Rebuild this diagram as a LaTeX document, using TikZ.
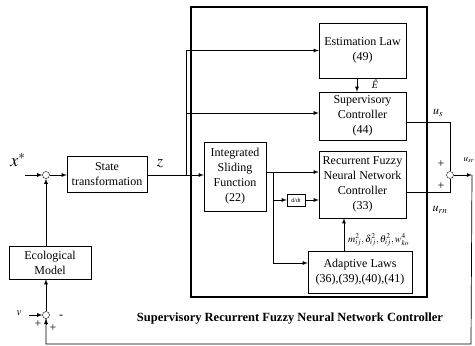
\documentclass[tikz,border=0pt]{standalone}
\usepackage{mathptmx}
\usepackage{fontspec}
\setmainfont{Liberation Serif}
\begin{document}
\begin{tikzpicture}[>=latex,x=1pt,y=-1pt,
  block/.style={draw,thin,align=center,inner sep=1pt,font=\fontsize{12}{15}\selectfont},
  sum/.style={draw,circle,thin,minimum size=7pt,inner sep=0pt},
  sig/.style={thick},
  wire/.style={line width=0.7pt},
  sign/.style={font=\fontsize{12}{12}\selectfont,inner sep=0pt}]
  \useasboundingbox (0,0) rectangle (475,346);

  % Controller frame
  \draw[line width=1.6pt] (191,7) rectangle (427,297);
  \node[font=\bfseries\fontsize{12.5}{14}\selectfont] (title) at (290,319)
    {Supervisory Recurrent Fuzzy Neural Network Controller};

  % Blocks
  \node[block,minimum width=87pt,minimum height=55pt] (est) at (362.5,50.5)
    {Estimation Law\\(49)};
  \node[block,minimum width=87pt,minimum height=48pt] (sup) at (362.5,116)
    {Supervisory\\Controller\\(44)};
  \node[block,minimum width=87pt,minimum height=67pt] (rfnn) at (362.5,184.5)
    {Recurrent Fuzzy\\Neural Network\\Controller\\(33)};
  \node[block,minimum width=62pt,minimum height=69pt] (isf) at (235,176.5)
    {Integrated\\Sliding\\Function\\(22)};
  \node[block,minimum width=18pt,minimum height=12pt,font=\fontsize{6}{6}\selectfont] (ddt) at (296,200)
    {d/dt};
  \node[block,minimum width=104pt,minimum height=42pt] (adapt) at (360,272)
    {Adaptive Laws\\(36),(39),(40),(41)};
  \node[block,minimum width=80pt,minimum height=36pt] (state) at (107,174)
    {State\\transformation};
  \node[block,minimum width=82pt,minimum height=33pt] (eco) at (50,262.5)
    {Ecological\\Model};

  % Summing junctions
  \node[sum] (sum1) at (46,175) {};
  \node[sum] (sum2) at (46,315) {};
  \node[sum] (sum3) at (450,175) {};

  % Free ends
  \coordinate (xin) at (25,175);
  \coordinate (vin) at (29,315);
  \coordinate (br) at (186,175);
  \coordinate (tap) at (273,172);
  \coordinate (tapd) at (273,200);
  \coordinate (tapa) at (273,263);
  \coordinate (out) at (472,175);
  \coordinate (fb) at (471,344);
  \coordinate (fbl) at (46,344);

  % Plant side
  \draw[->,sig] (xin) -- (sum1);
  \draw[->,sig] (sum1) -- (state.west |- sum1);
  \draw[->,sig] (eco.north -| sum1) -- (sum1);
  \draw[->,sig] (sum2) -- (eco.south -| sum2);
  \draw[->,sig] (vin) -- (sum2);
  \node[font=\fontsize{18}{18}\selectfont,inner sep=0pt] (xlab) at (18,160) {$x^{*}$};
  \node[font=\fontsize{11}{11}\selectfont] (vlab) at (19,313) {$v$};
  \node[sign] (p1) at (38,324) {+};
  \node[sign] (p2) at (53,328) {+};
  \node[sign] (m1) at (61,317) {-};

  % Sliding variable
  \draw[->,sig] (state.east |- br) -- (isf.west |- br);
  \node[font=\fontsize{16}{16}\selectfont,inner sep=0pt] (zlab) at (160,164) {$z$};
  \draw[->,sig] (br) |- (est.west);
  \draw[->,sig] (br) |- ([yshift=3pt]sup.west);
  \draw[->,sig] ([xshift=-5.5pt]est.south) -- ([xshift=-5.5pt]sup.north);
  \node[font=\fontsize{10}{10}\selectfont\itshape,inner sep=0pt] (ehat) at (375,84) {Ê};

  % Network inputs
  \draw[->,sig] (isf.east |- tap) -- (rfnn.west |- tap);
  \draw[sig] (tap) -- (tapa);
  \draw[->,sig] (tapd) -- (ddt.west);
  \draw[->,sig] (ddt.east) -- (rfnn.west |- ddt.east);
  \draw[->,sig] (tapa) -- (adapt.west |- tapa);
  \draw[->,sig] ([xshift=-16pt]adapt.north) -- ([xshift=-18.5pt]rfnn.south);
  \node[font=\fontsize{10}{10}\selectfont,anchor=west,inner sep=0pt] (par) at (348,240)
    {$m_{ij}^{2},\delta_{ij}^{2},\theta_{ij}^{2},w_{ko}^{4}$};

  % Control sum and feedback
  \draw[wire] ([yshift=-6pt]sup.east) -| (sum3.north);
  \draw[wire] ([yshift=-7.5pt]rfnn.east) -| (sum3.south);
  \node[sign] (p3) at (441,164) {+};
  \node[sign] (p4) at (441,186) {+};
  \node[font=\fontsize{12}{12}\selectfont] (us) at (438,113) {$u_{s}$};
  \node[font=\fontsize{12}{12}\selectfont] (urn) at (440,210) {$u_{rn}$};
  \node[font=\fontsize{9}{9}\selectfont,anchor=west] (usr) at (460,160) {$u_{sr}$};
  \draw[->,sig] (sum3) -- (out);
  \draw[wire] (out) -- (fb) -- (fbl) -- (sum2.south);
  \draw[->,sig] ([yshift=-6pt]sum2.south) -- (sum2.south);
\end{tikzpicture}
\end{document}
